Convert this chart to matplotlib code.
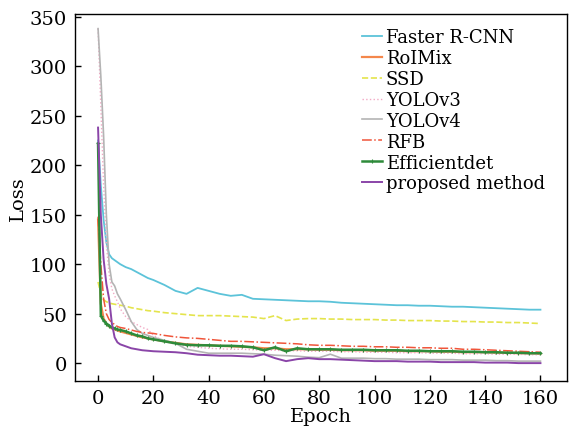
import numpy as np
import matplotlib
matplotlib.use("Agg")
import matplotlib.pyplot as plt

plt.rcParams['font.family'] = ['DejaVu Serif']

#%% data
epochs = [0, 1, 2, 3, 4, 5, 6, 7, 8, 10, 12, 14, 16, 18, 20, 24, 28, 32, 36, 40,
          44, 48, 52, 56, 60, 64, 68, 72, 76, 80, 84, 88, 92, 96, 100, 104, 108,
          112, 116, 120, 124, 128, 132, 136, 140, 144, 148, 152, 156, 160]

faster_rcnn = [225, 180, 145, 122, 110, 106, 104, 102, 100, 97, 95, 92, 89, 86, 84,
               79, 73, 70, 76, 73, 70, 68, 69, 65, 64.5, 64, 63.5, 63, 62.5, 62.5,
               62, 61, 60.5, 60, 59.5, 59, 58.5, 58.5, 58, 58, 57.5, 57, 57, 56.5,
               56, 55.5, 55, 54.5, 54, 54]
roimix = [145, 60, 45, 40, 37, 35, 34, 33, 32, 30.5, 29, 27.5, 26, 25, 24, 22, 20.5,
          19, 18.5, 18, 17.5, 17, 16.5, 16, 15, 15, 14, 14, 14, 13.5, 13.5, 13, 13,
          13, 12.5, 12.5, 12.5, 12, 12, 12, 11.5, 11.5, 11, 11, 11, 10.5, 10.5, 10,
          10, 9.5]
ssd = [82, 70, 64, 62, 61, 60, 59.5, 59, 58.5, 57.5, 56, 55, 54, 53, 52.5, 51, 50,
       49, 48, 48, 48, 47.5, 47, 46.5, 45, 48, 43, 44.5, 45, 45, 44.5, 44.5, 44, 44,
       44, 43.5, 43.5, 43, 43, 43, 42.5, 42.5, 42, 42, 41.5, 41.5, 41, 41, 40.5, 40]
yolov3 = [338, 260, 180, 120, 90, 75, 68, 62, 55, 47, 42, 39, 36, 34, 28, 22, 19, 17,
          16, 15, 14.5, 14, 14, 13.5, 13, 13, 12.5, 12.5, 12, 12, 12, 11.5, 11.5, 11,
          11, 11, 10.5, 10.5, 10.5, 10, 10, 10, 9.5, 9.5, 9.5, 9, 9, 9, 8.5, 8.5]
yolov4 = [338, 290, 230, 150, 100, 82, 78, 70, 65, 54, 42, 34, 30, 28, 26, 23, 20, 14,
          12, 10, 10, 10, 10, 9.5, 9, 8, 7.5, 7, 6, 5.5, 9, 5, 5, 5, 4.5, 4.5, 4, 4,
          4, 3.5, 3.5, 3.5, 3, 3, 3, 2.5, 2.5, 2, 2, 2]
rfb = [148, 100, 65, 50, 44, 41, 39, 37, 36, 35, 33.5, 32, 31, 30.5, 30, 28, 26.5,
       25.5, 25, 24, 23, 22, 22, 21.5, 21, 20.5, 20, 19.5, 18.5, 18, 18, 17.5, 17,
       17, 16.5, 16.5, 16, 16, 15.5, 15.5, 15, 15, 14, 14, 13.5, 13, 12.5, 12,
       11.5, 11]
efficientdet = [222, 48, 43, 40, 38, 36, 35, 34, 33.5, 32, 30, 28, 27, 25, 24, 22, 20,
                18.5, 18, 18, 17.5, 17.5, 17, 16, 13, 16, 12, 15, 14, 14, 14, 13.5,
                13.5, 13.5, 13, 13, 13, 12.5, 12.5, 12, 12, 12, 11.5, 11.5, 11, 11,
                10.5, 10.5, 10, 10]
proposed = [238, 150, 105, 80, 65, 40, 26, 21, 19, 17, 15, 14, 13, 12.5, 12, 11.5, 11,
            10, 8.5, 8, 7.5, 7.5, 7, 6.5, 9, 5, 2, 4, 5, 4, 4, 3.5, 3, 2.5, 2, 2, 2,
            1.5, 1.5, 1.5, 1, 1, 1, 1, 0.5, 0.5, 0.5, 0, 0, 0]

#%% plot
fig = plt.figure(figsize=(5.69, 4.35), dpi=100)
ax = fig.add_axes([0.132, 0.122, 0.864, 0.844])

ax.plot(epochs, faster_rcnn, color='#5cc3d9', lw=1.3, label='Faster R-CNN')
ax.plot(epochs, roimix, color='#f4874b', lw=1.6, label='RoIMix')
ax.plot(epochs, ssd, color='#e4e44c', lw=1.2, ls='--', label='SSD')
ax.plot(epochs, yolov3, color='#f2a9c4', lw=1.0, ls=':', label='YOLOv3')
ax.plot(epochs, yolov4, color='#b4b4b4', lw=1.2, label='YOLOv4')
ax.plot(epochs, rfb, color='#f0553a', lw=1.1, ls='-.', label='RFB')
ax.plot(epochs, efficientdet, color='#2e8b3a', lw=1.8, marker='+', ms=3,
        mew=0.8, label='Efficientdet')
ax.plot(epochs, proposed, color='#8a45a8', lw=1.4, label='proposed method')

ax.set_xlim(-8.3, 169.5)
ax.set_ylim(-18, 353)
ax.set_xticks(np.arange(0, 161, 20))
ax.set_yticks(np.arange(0, 351, 50))
ax.tick_params(direction='in', length=4, width=1, labelsize=14, pad=6)
for s in ax.spines.values():
    s.set_linewidth(1.0)

ax.set_xlabel('Epoch', fontsize=14, labelpad=0)
ax.set_ylabel('Loss', fontsize=14, labelpad=2)

ax.legend(loc='upper right', frameon=False, fontsize=13, handlelength=1.1,
          handletextpad=0.2, labelspacing=0.16, borderaxespad=0.4,
          bbox_to_anchor=(0.985, 1.0))

fig.savefig('out.png', dpi=100)
